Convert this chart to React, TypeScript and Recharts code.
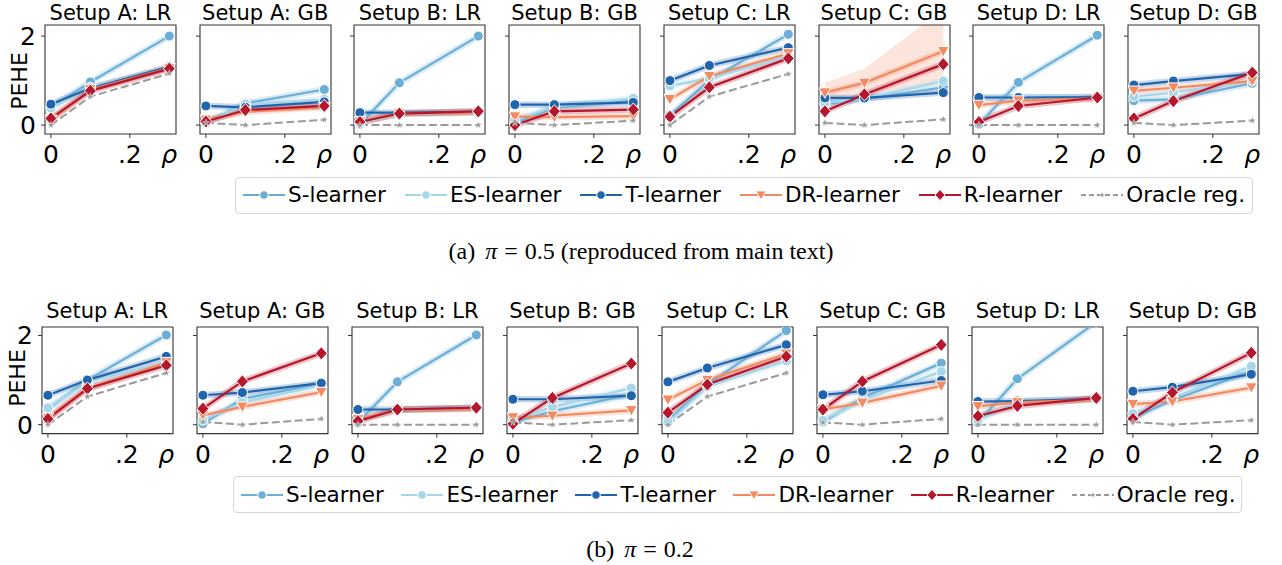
import React from "react";
import { Area, ComposedChart, Line, ReferenceArea, XAxis, YAxis } from "recharts";

// rho values on the x axis
const RHO = [0, 0.1, 0.3];
const SETUPS = [
  "Setup A: LR", "Setup A: GB", "Setup B: LR", "Setup B: GB",
  "Setup C: LR", "Setup C: GB", "Setup D: LR", "Setup D: GB",
];

// (a) pi = 0.5 — one triple (rho = 0, .1, .3) per setup
const S_05 = [[0.4, 0.97, 2.0], [0.05, 0.49, 0.8], [0.02, 0.95, 2.0], [0.05, 0.4, 0.55], [0.22, 1.01, 2.04], [0.47, 0.58, 0.85], [0.02, 0.96, 2.02], [0.55, 0.58, 0.94]];
const ES_05 = [[0.38, 0.85, 1.28], [0.05, 0.47, 0.58], [0.05, 0.25, 0.28], [0.1, 0.42, 0.6], [0.88, 1.05, 1.55], [0.5, 0.6, 0.99], [0.6, 0.62, 0.62], [0.64, 0.73, 1.0]];
const T_05 = [[0.47, 0.83, 1.31], [0.43, 0.4, 0.52], [0.28, 0.28, 0.3], [0.46, 0.46, 0.51], [1.0, 1.34, 1.74], [0.61, 0.61, 0.73], [0.62, 0.62, 0.63], [0.9, 0.99, 1.15]];
const DR_05 = [[0.12, 0.8, 1.28], [0.12, 0.3, 0.4], [0.08, 0.26, 0.28], [0.19, 0.18, 0.2], [0.58, 1.1, 1.61], [0.73, 0.95, 1.66], [0.45, 0.55, 0.6], [0.77, 0.84, 0.99]];
const R_05 = [[0.15, 0.77, 1.27], [0.08, 0.34, 0.43], [0.07, 0.26, 0.31], [0.0, 0.31, 0.35], [0.19, 0.85, 1.5], [0.31, 0.69, 1.37], [0.07, 0.43, 0.62], [0.15, 0.54, 1.18]];
const OR_05 = [[0.0, 0.64, 1.16], [0.05, 0.0, 0.12], [0.0, 0.0, 0.0], [0.05, 0.0, 0.1], [0.0, 0.64, 1.15], [0.05, 0.0, 0.13], [0.0, 0.0, 0.0], [0.05, 0.0, 0.1]];
// wide DR-learner interval in Setup C: GB
const DR_BAND_05 = [null, null, null, null, null, [[0.5, 0.95], [0.65, 1.27], [1.0, 2.6]], null, null];

// (b) pi = 0.2
const S_02 = [[0.35, 1.0, 2.01], [0.02, 0.58, 0.92], [0.05, 0.96, 2.01], [0.05, 0.3, 0.68], [0.1, 0.9, 2.11], [0.06, 0.6, 1.38], [0.05, 1.03, 2.3], [0.15, 0.55, 1.2]];
const ES_02 = [[0.38, 0.95, 1.4], [0.1, 0.5, 0.88], [0.1, 0.33, 0.37], [0.1, 0.4, 0.82], [0.05, 0.85, 1.43], [0.1, 0.55, 1.19], [0.1, 0.52, 0.58], [0.25, 0.6, 1.31]];
const T_02 = [[0.66, 1.0, 1.53], [0.66, 0.72, 0.93], [0.34, 0.34, 0.38], [0.57, 0.57, 0.65], [0.96, 1.27, 1.79], [0.67, 0.75, 0.99], [0.52, 0.53, 0.58], [0.75, 0.84, 1.13]];
const DR_02 = [[0.15, 0.8, 1.4], [0.21, 0.4, 0.73], [0.12, 0.33, 0.35], [0.16, 0.2, 0.32], [0.56, 1.0, 1.59], [0.34, 0.49, 0.87], [0.41, 0.5, 0.56], [0.46, 0.52, 0.83]];
const R_02 = [[0.13, 0.81, 1.33], [0.36, 0.97, 1.6], [0.08, 0.34, 0.38], [0.02, 0.6, 1.37], [0.27, 0.9, 1.53], [0.34, 0.97, 1.79], [0.19, 0.42, 0.6], [0.13, 0.72, 1.61]];
const OR_02 = [[0.0, 0.63, 1.16], [0.06, 0.0, 0.13], [0.0, 0.0, 0.0], [0.05, 0.0, 0.1], [0.0, 0.63, 1.16], [0.05, 0.0, 0.13], [0.0, 0.0, 0.0], [0.06, 0.0, 0.1]];
const DR_BAND_02 = [null, null, null, null, null, null, null, null];

type Kind = "circle" | "tri" | "diamond" | "star";
const LEARNERS: { key: string; name: string; color: string; marker: Kind }[] = [
  { key: "S", name: "S-learner", color: "#6baed6", marker: "circle" },
  { key: "ES", name: "ES-learner", color: "#a6d6ea", marker: "circle" },
  { key: "T", name: "T-learner", color: "#2064ad", marker: "circle" },
  { key: "DR", name: "DR-learner", color: "#f28a62", marker: "tri" },
  { key: "R", name: "R-learner", color: "#b5172c", marker: "diamond" },
  { key: "OR", name: "Oracle reg.", color: "#9a9a9a", marker: "star" },
];

const FONT = "DejaVu Sans";
const X_DOMAIN: [number, number] = [-0.015, 0.317];
const BOX_W = 131;
const LEFT_PAD = 40;
const TOP_PAD = 14;
const TICK_SIZE = 4;
const TICK_MARGIN = 7;

const ROWS = [
  { S: S_05, ES: ES_05, T: T_05, DR: DR_05, R: R_05, OR: OR_05, band: DR_BAND_05, top: 25, boxH: 109, left0: 45, pitch: 154.7, yMax: 2.25, titleY: 20, peheX: 26.5, peheY: 81 },
  { S: S_02, ES: ES_02, T: T_02, DR: DR_02, R: R_02, OR: OR_02, band: DR_BAND_02, top: 326.7, boxH: 106.6, left0: 41.7, pitch: 155.1, yMax: 2.19, titleY: 318, peheX: 25, peheY: 378 },
];

function Marker({ kind, cx, cy, color, scale = 1 }: { kind: Kind; cx?: number; cy?: number; color: string; scale?: number }) {
  if (cx == null || cy == null) return null;
  if (kind === "circle") {
    return <circle cx={cx} cy={cy} r={5 * scale} fill={color} stroke="#fff" strokeWidth={1} />;
  }
  if (kind === "tri") {
    const s = 6 * scale;
    return <polygon points={`${cx - s},${cy - s * 0.8} ${cx + s},${cy - s * 0.8} ${cx},${cy + s * 0.95}`} fill={color} stroke="#fff" strokeWidth={1} />;
  }
  if (kind === "diamond") {
    const s = 6.6 * scale;
    return <polygon points={`${cx},${cy - s} ${cx + s * 0.9},${cy} ${cx},${cy + s} ${cx - s * 0.9},${cy}`} fill={color} stroke="#fff" strokeWidth={1} />;
  }
  const ro = 3.8 * scale;
  const ri = 1.6 * scale;
  const pts: string[] = [];
  for (let k = 0; k < 10; k++) {
    const r = k % 2 === 0 ? ro : ri;
    const a = -Math.PI / 2 + (k * Math.PI) / 5;
    pts.push(`${cx + r * Math.cos(a)},${cy + r * Math.sin(a)}`);
  }
  return <polygon points={pts.join(" ")} fill={color} stroke="#fff" strokeWidth={0.4} />;
}

function XTick(props: any) {
  const { x, y, payload } = props;
  const v = payload.value;
  const label = v === 0 ? "0" : v === 0.3 ? "ρ" : ".2";
  const axisY = y - TICK_SIZE - TICK_MARGIN;
  return (
    <g>
      {v !== 0.3 && <line x1={x} x2={x} y1={axisY} y2={axisY + TICK_SIZE} stroke="#333" strokeWidth={1} />}
      <text x={x} y={y + 18} textAnchor="middle" fontSize={25} fontFamily={FONT} fontStyle={v === 0.3 ? "italic" : "normal"} fill="#000">
        {label}
      </text>
    </g>
  );
}

function Panel({ row, p }: { row: (typeof ROWS)[number]; p: number }) {
  const band = row.band[p];
  const data = RHO.map((rho, i) => ({
    rho,
    S: row.S[p][i],
    ES: row.ES[p][i],
    T: row.T[p][i],
    DR: row.DR[p][i],
    R: row.R[p][i],
    OR: row.OR[p][i],
    band: band ? band[i] : undefined,
  }));
  const yDomain: [number, number] = [-0.2, row.yMax];
  const boxLeft = row.left0 + row.pitch * p;
  const width = LEFT_PAD + BOX_W + 15;
  const height = TOP_PAD + row.boxH + 40;
  return (
    <div style={{ position: "absolute", left: boxLeft - LEFT_PAD, top: row.top - TOP_PAD }}>
      <ComposedChart width={width} height={height} data={data} margin={{ top: TOP_PAD, right: 15, left: 0, bottom: 0 }}>
        <XAxis
          dataKey="rho"
          type="number"
          domain={X_DOMAIN}
          allowDataOverflow
          ticks={[0, 0.2, 0.3]}
          height={40}
          axisLine={false}
          tickLine={false}
          tickSize={TICK_SIZE}
          tickMargin={TICK_MARGIN}
          tick={<XTick />}
          interval={0}
        />
        <YAxis
          type="number"
          domain={yDomain}
          allowDataOverflow
          ticks={[0, 2]}
          width={LEFT_PAD}
          axisLine={false}
          tickLine={{ stroke: "#333" }}
          tickSize={TICK_SIZE}
          tickMargin={5}
          interval={0}
          tick={p === 0 ? { fontSize: 25, fill: "#000", fontFamily: FONT } : () => <g />}
        />
        {band && (
          <Area dataKey="band" stroke="none" fill="#f28a62" fillOpacity={0.22} isAnimationActive={false} activeDot={false} />
        )}
        {LEARNERS.filter((l) => l.key !== "OR").map((l) => (
          <Line
            key={`halo-${l.key}`}
            dataKey={l.key}
            stroke={l.color}
            strokeOpacity={0.25}
            strokeWidth={6.5}
            dot={false}
            activeDot={false}
            isAnimationActive={false}
          />
        ))}
        {LEARNERS.map((l) => (
          <Line
            key={l.key}
            dataKey={l.key}
            stroke={l.color}
            strokeWidth={l.key === "OR" ? 2 : 2.2}
            strokeDasharray={l.key === "OR" ? "8 3.5" : undefined}
            dot={(d: any) => <Marker key={`${l.key}-${d.index}`} kind={l.marker} cx={d.cx} cy={d.cy} color={l.color} />}
            activeDot={false}
            isAnimationActive={false}
          />
        ))}
        <ReferenceArea
          x1={X_DOMAIN[0]}
          x2={X_DOMAIN[1]}
          y1={yDomain[0]}
          y2={yDomain[1]}
          fill="#fff"
          fillOpacity={0}
          stroke="#333"
          strokeWidth={1.1}
          ifOverflow="visible"
        />
      </ComposedChart>
    </div>
  );
}

function LegendSample({ l }: { l: (typeof LEARNERS)[number] }) {
  return (
    <svg width={42} height={20} style={{ display: "block" }}>
      <line
        x1={0}
        x2={42}
        y1={10}
        y2={10}
        stroke={l.color}
        strokeWidth={l.key === "OR" ? 1.8 : 2}
        strokeDasharray={l.key === "OR" ? "5 3" : undefined}
      />
      <Marker kind={l.marker} cx={21} cy={10} color={l.color} scale={0.85} />
    </svg>
  );
}

function LegendBox({ left, top, width, gap }: { left: number; top: number; width: number; gap: number }) {
  return (
    <div
      style={{
        position: "absolute",
        left,
        top,
        width,
        height: 37,
        boxSizing: "border-box",
        border: "1px solid #d6d6d6",
        borderRadius: 4,
        background: "#fff",
        display: "flex",
        alignItems: "center",
        paddingLeft: 7,
        columnGap: gap,
        fontFamily: FONT,
        fontSize: 21.5,
        color: "#000",
        whiteSpace: "nowrap",
      }}
    >
      {LEARNERS.map((l) => (
        <div key={l.key} style={{ display: "flex", alignItems: "center" }}>
          <LegendSample l={l} />
          <span style={{ marginLeft: 3, lineHeight: "24px" }}>{l.name}</span>
        </div>
      ))}
    </div>
  );
}

export default function App() {
  return (
    <div style={{ position: "absolute", left: 0, top: 0, width: 1282, height: 565, background: "#fff", overflow: "hidden" }}>
      {ROWS.map((row, r) => SETUPS.map((_, p) => <Panel key={`${r}-${p}`} row={row} p={p} />))}
      <svg width={1282} height={565} style={{ position: "absolute", left: 0, top: 0, pointerEvents: "none" }}>
        {ROWS.map((row, r) => (
          <g key={r}>
            {SETUPS.map((title, p) => (
              <text
                key={p}
                x={row.left0 + row.pitch * p + BOX_W / 2}
                y={row.titleY}
                textAnchor="middle"
                fontFamily={FONT}
                fontSize={21}
                fill="#000"
              >
                {title}
              </text>
            ))}
            <text
              transform={`translate(${row.peheX},${row.peheY}) rotate(-90)`}
              textAnchor="middle"
              fontFamily={FONT}
              fontSize={22}
              fill="#000"
            >
              PEHE
            </text>
          </g>
        ))}
        <text x={641} y={259} textAnchor="middle" fontFamily="Liberation Serif" fontSize={24} fill="#000">
          (a)<tspan dx={10} fontStyle="italic">π</tspan>
          <tspan dx={7}>=</tspan>
          <tspan dx={7}>0.5 (reproduced from main text)</tspan>
        </text>
        <text x={640} y={557} textAnchor="middle" fontFamily="Liberation Serif" fontSize={24} fill="#000">
          (b)<tspan dx={10} fontStyle="italic">π</tspan>
          <tspan dx={7}>=</tspan>
          <tspan dx={7}>0.2</tspan>
        </text>
      </svg>
      <LegendBox left={235} top={176.7} width={1018} gap={19} />
      <LegendBox left={233} top={476} width={1009} gap={17.5} />
    </div>
  );
}
